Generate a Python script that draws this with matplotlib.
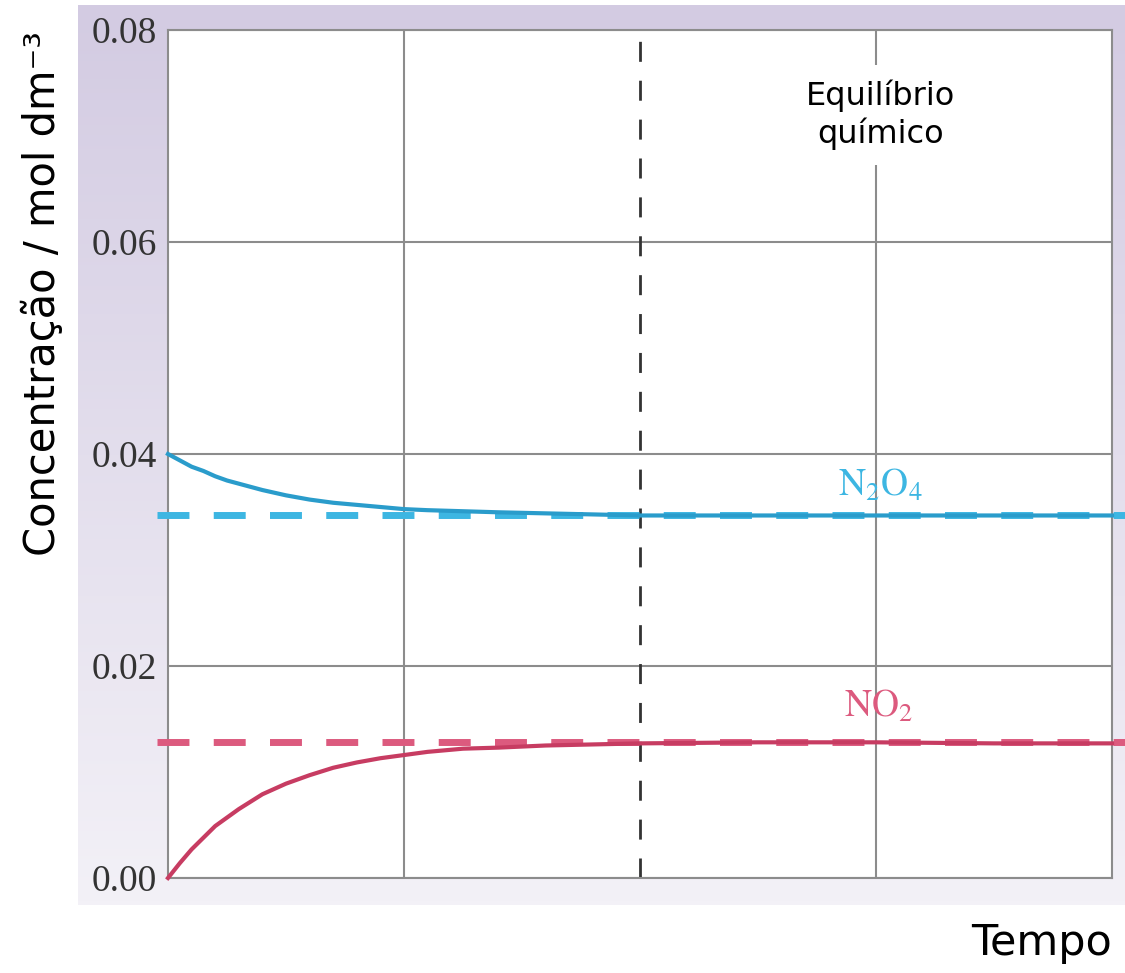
import numpy as np
import matplotlib
matplotlib.use("Agg")
from matplotlib import pyplot as plt

# tempo (unidades arbitrárias: 4 divisões da grelha)
tempo = [0.0, 0.05, 0.1, 0.15, 0.2, 0.25, 0.3, 0.35, 0.4, 0.5, 0.6, 0.7, 0.8, 0.9,
         1.0, 1.1, 1.25, 1.4, 1.6, 1.8, 2.0, 2.5, 3.0, 3.5, 4.0]
n2o4 = [0.0400, 0.0394, 0.0388, 0.0384, 0.0379, 0.0375, 0.0372, 0.0369, 0.0366,
        0.0361, 0.0357, 0.0354, 0.0352, 0.0350, 0.0348, 0.0347, 0.0346, 0.0345,
        0.0344, 0.0343, 0.0342, 0.0342, 0.0342, 0.0342, 0.0342]
no2 = [0.0, 0.0014, 0.0027, 0.0038, 0.0049, 0.0057, 0.0065, 0.0072, 0.0079,
       0.0089, 0.0097, 0.0104, 0.0109, 0.0113, 0.0116, 0.0119, 0.0122, 0.0123,
       0.0125, 0.0126, 0.0127, 0.0128, 0.0128, 0.0127, 0.0127]
n2o4_eq = 0.0342
no2_eq = 0.0128
t_equilibrio = 2.0

yticks = [0.00, 0.02, 0.04, 0.06, 0.08]
yticklabels = ["0.00", "0.02", "0.04", "0.06", "0.08"]
xgrid = [1, 3]  # grid at t=2 is replaced by the dashed equilibrium marker

BLUE = "#3db6e2"
BLUE_DARK = "#2a9ccb"
RED = "#dc5a7e"
RED_DARK = "#c73c62"

plt.rcParams['mathtext.fontset'] = 'stix'

fig = plt.figure(figsize=(11.25, 9.73), dpi=100)

# lavender gradient background behind the chart
bg = fig.add_axes([78 / 1125, 1 - 905 / 973, 1 - 78 / 1125, 900 / 973], zorder=0)
grad = np.linspace(0, 1, 256).reshape(-1, 1)
top = np.array([211, 203, 226]) / 255
bottom = np.array([243, 241, 247]) / 255
img = top + (bottom - top) * grad[..., None]
bg.imshow(img, aspect='auto', extent=[0, 1, 0, 1])
bg.axis('off')

ax = fig.add_axes([168 / 1125, 1 - 878 / 973, 944 / 1125, 848 / 973], zorder=1)
ax.set_facecolor('white')
ax.set_xlim(0, 4)
ax.set_ylim(0, 0.08)

ax.set_xticks(xgrid)
ax.set_yticks(yticks)
ax.set_yticklabels(yticklabels, fontfamily='Liberation Serif', fontsize=27, color='#333333')
ax.tick_params(axis='x', labelbottom=False, length=0)
ax.tick_params(axis='y', length=0, pad=8)
ax.grid(True, color='#8c8c8c', linewidth=1.5)
ax.set_axisbelow(True)
for s in ax.spines.values():
    s.set_color('#8c8c8c')
    s.set_linewidth(1.5)

# equilibrium marker
ax.axvline(t_equilibrio, color='#333333', linewidth=2, dashes=(7.2, 6.8), zorder=2)

# dashed equilibrium levels (run past the axes to the figure edge)
ax.plot([-0.047, 4.06], [n2o4_eq, n2o4_eq], color=BLUE, linewidth=5,
        dashes=(4.6, 3.5), dash_capstyle='butt', clip_on=False, zorder=3)
ax.plot([-0.047, 4.06], [no2_eq, no2_eq], color=RED, linewidth=5,
        dashes=(4.6, 3.5), dash_capstyle='butt', clip_on=False, zorder=3)

ax.plot(tempo, n2o4, color=BLUE_DARK, linewidth=3, zorder=4, clip_on=False,
        solid_joinstyle='round')
ax.plot(tempo, no2, color=RED_DARK, linewidth=3, zorder=4, clip_on=False,
        solid_joinstyle='round')

ax.text(3.02, 0.0370, r'$\mathrm{N_2O_4}$', color=BLUE, fontsize=27, ha='center', va='center')
ax.text(3.01, 0.0162, r'$\mathrm{NO_2}$', color=RED, fontsize=27, ha='center', va='center')

ax.text(3.02, 0.0720, "Equilíbrio\nquímico", fontfamily='DejaVu Sans', fontsize=23,
        ha='center', va='center', linespacing=1.25, zorder=5,
        bbox=dict(boxstyle='square,pad=0.45', facecolor='white', edgecolor='none'))

fig.text(43 / 1125, 1 - 294 / 973, "Concentração / mol dm⁻³", rotation=90,
         fontfamily='DejaVu Sans', fontsize=30, ha='center', va='center')
fig.text(1112 / 1125, 1 - 943 / 973, "Tempo", fontfamily='DejaVu Sans', fontsize=31,
         ha='right', va='center')

fig.savefig("out.png", dpi=100)
